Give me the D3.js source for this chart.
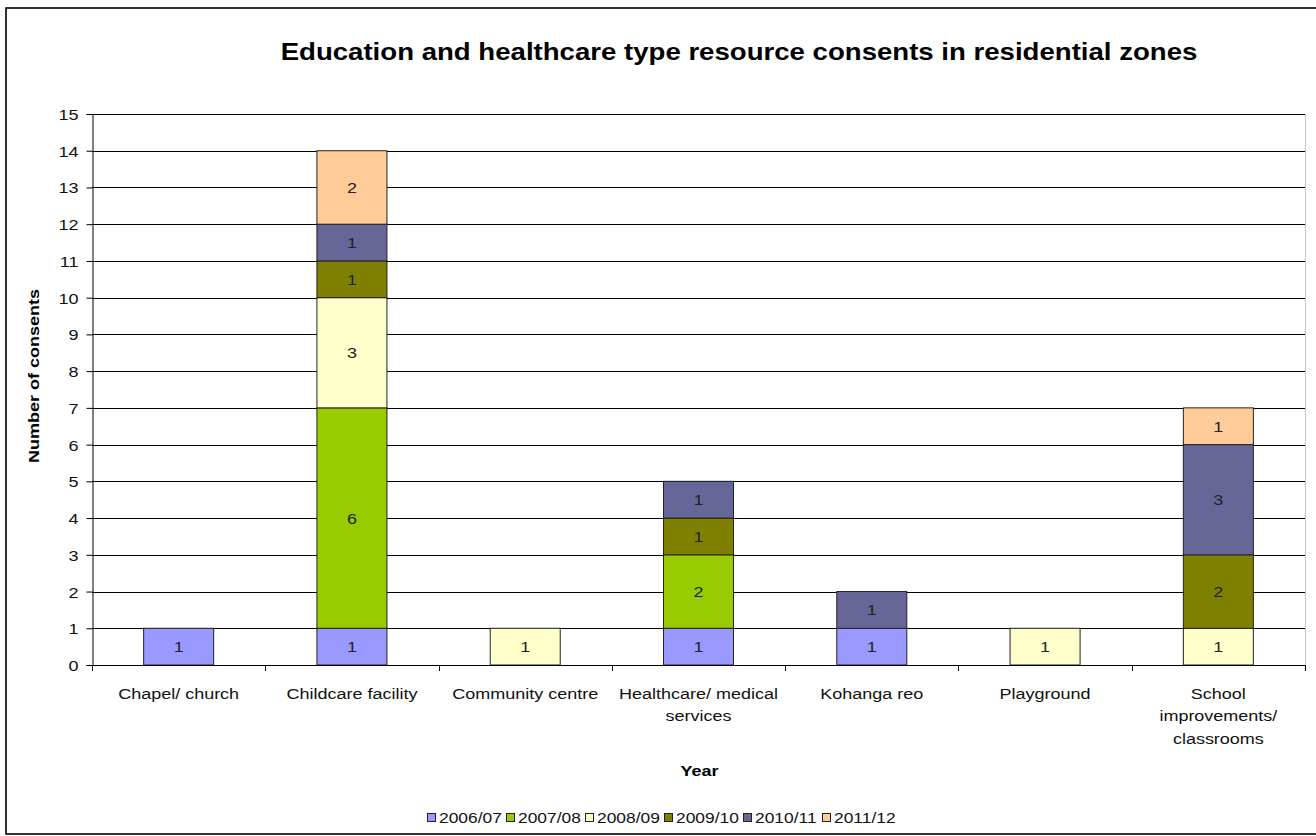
<!DOCTYPE html>
<html>
<head>
<meta charset="utf-8">
<script src="https://cdn.jsdelivr.net/npm/d3@7"></script>
<style>
  html, body { margin: 0; padding: 0; background: #fff; }
  svg { display: block; }
  text { font-family: "Liberation Sans", Arial, sans-serif; }
</style>
</head>
<body>
<svg id="chart" width="1316" height="836"></svg>
<script>
// ---- data ----
const categories = [
  ["Chapel/ church"],
  ["Childcare facility"],
  ["Community centre"],
  ["Healthcare/ medical", "services"],
  ["Kohanga reo"],
  ["Playground"],
  ["School", "improvements/", "classrooms"]
];
const seriesNames = ["2006/07", "2007/08", "2008/09", "2009/10", "2010/11", "2011/12"];
const s2006 = [1, 1, 0, 1, 1, 0, 0];
const s2007 = [0, 6, 0, 2, 0, 0, 0];
const s2008 = [0, 3, 1, 0, 0, 1, 1];
const s2009 = [0, 1, 0, 1, 0, 0, 2];
const s2010 = [0, 1, 0, 1, 1, 0, 3];
const s2011 = [0, 2, 0, 0, 0, 0, 1];
const seriesColors = ["#9999FF", "#99CC00", "#FFFFCC", "#808000", "#666699", "#FFCC99"];
const yTicks = d3.range(0, 16);
const titleText = "Education and healthcare type resource consents in residential zones";
const yTitle = "Number of consents";
const xTitle = "Year";

// ---- layout ----
const SX = 1.2; // horizontal text stretch of the original rendering
const svg = d3.select("#chart");
const plot = { left: 92, right: 1305, top: 114, bottom: 665 };

const catIdx = categories.map((c, i) => i);
const x = d3.scaleBand().domain(catIdx).range([plot.left, plot.right])
  .paddingInner(0.596).paddingOuter(0.298);
const xEdge = d3.scaleLinear().domain([0, categories.length]).range([plot.left, plot.right]);
const y = d3.scaleLinear().domain([0, 15]).range([plot.bottom, plot.top]);

const allSeries = [s2006, s2007, s2008, s2009, s2010, s2011];
const table = catIdx.map(i => {
  const row = { idx: i };
  seriesNames.forEach((n, k) => row[n] = allSeries[k][i]);
  return row;
});
const stacked = d3.stack().keys(seriesNames)(table);

// outer border
svg.append("rect").attr("x", 6).attr("y", 8).attr("width", 1330).attr("height", 826)
  .attr("fill", "#fff").attr("stroke", "#000").attr("stroke-width", 1.6);

// title
svg.append("text")
  .attr("transform", `translate(739,60) scale(${SX},1)`)
  .attr("text-anchor", "middle").attr("font-size", 23).attr("font-weight", "bold")
  .attr("fill", "#000").text(titleText);

// gridlines
svg.append("g").selectAll("line").data(yTicks.filter(t => t > 0)).join("line")
  .attr("x1", plot.left).attr("x2", plot.right)
  .attr("y1", d => Math.round(y(d)) + 0.5).attr("y2", d => Math.round(y(d)) + 0.5)
  .attr("stroke", "#000").attr("stroke-width", 1);

// plot right border
svg.append("line").attr("x1", plot.right + 0.5).attr("x2", plot.right + 0.5)
  .attr("y1", plot.top).attr("y2", plot.bottom).attr("stroke", "#c8c8c8");

// bars
const layers = svg.append("g").selectAll("g").data(stacked).join("g")
  .attr("fill", (d, i) => seriesColors[i]);
layers.selectAll("rect").data(d => d.filter(p => p[1] - p[0] > 0)).join("rect")
  .attr("x", d => x(d.data.idx))
  .attr("width", x.bandwidth())
  .attr("y", d => y(d[1]))
  .attr("height", d => y(d[0]) - y(d[1]))
  .attr("stroke", "#222").attr("stroke-width", 1);

// bar labels
layers.selectAll("text").data(d => d.filter(p => p[1] - p[0] > 0).map(p => ({ p, v: p[1] - p[0] }))).join("text")
  .attr("transform", d => `translate(${x(d.p.data.idx) + x.bandwidth() / 2},${(y(d.p[0]) + y(d.p[1])) / 2 + 5.5}) scale(${SX},1)`)
  .attr("text-anchor", "middle").attr("font-size", 15).attr("fill", "#222")
  .text(d => d.v);

// y axis
const yAxis = svg.append("g").attr("transform", `translate(${plot.left + 0.5},0)`)
  .call(d3.axisLeft(y).tickValues(yTicks).tickSize(6).tickPadding(6).tickFormat(d3.format("d")));
yAxis.select(".domain").attr("stroke", "#000");
yAxis.selectAll(".tick line").attr("stroke", "#000");
yAxis.selectAll(".tick text")
  .attr("font-size", 15).attr("fill", "#111").attr("font-family", "Liberation Sans, Arial, sans-serif")
  .attr("x", null).attr("dy", null)
  .attr("transform", `translate(-14,5.5) scale(${SX},1)`);

// x axis
svg.append("line").attr("x1", plot.left).attr("x2", plot.right)
  .attr("y1", plot.bottom + 0.5).attr("y2", plot.bottom + 0.5).attr("stroke", "#000");
svg.append("g").selectAll("line").data(d3.range(0, categories.length + 1)).join("line")
  .attr("x1", d => Math.round(xEdge(d)) + 0.5).attr("x2", d => Math.round(xEdge(d)) + 0.5)
  .attr("y1", plot.bottom).attr("y2", plot.bottom + 6).attr("stroke", "#000");

// category labels
const catG = svg.append("g").selectAll("g").data(catIdx).join("g")
  .attr("transform", d => `translate(${x(d) + x.bandwidth() / 2},0)`);
catG.selectAll("text").data(d => categories[d]).join("text")
  .attr("transform", (d, i) => `translate(0,${698.5 + i * 22.5}) scale(${SX},1)`)
  .attr("text-anchor", "middle").attr("font-size", 15).attr("fill", "#111")
  .text(d => d);

// axis titles
svg.append("text")
  .attr("transform", `translate(${(plot.left + plot.right) / 2 + 1},776) scale(${SX},1)`)
  .attr("text-anchor", "middle").attr("font-size", 15).attr("font-weight", "bold").text(xTitle);
svg.append("text")
  .attr("transform", `translate(39,376) rotate(-90) scale(${SX},1)`)
  .attr("text-anchor", "middle").attr("font-size", 15).attr("font-weight", "bold").text(yTitle);

// legend
const legendX = [427, 506, 585, 664, 743, 822];
const leg = svg.append("g").selectAll("g").data(seriesNames).join("g")
  .attr("transform", (d, i) => `translate(${legendX[i]},818)`);
leg.append("rect").attr("x", 0.5).attr("y", -4.5).attr("width", 8).attr("height", 8)
  .attr("fill", (d, i) => seriesColors[i]).attr("stroke", "#222");
leg.append("text")
  .attr("transform", `translate(12,5) scale(${SX},1)`)
  .attr("font-size", 14.5).attr("fill", "#111").text(d => d);
</script>
</body>
</html>
